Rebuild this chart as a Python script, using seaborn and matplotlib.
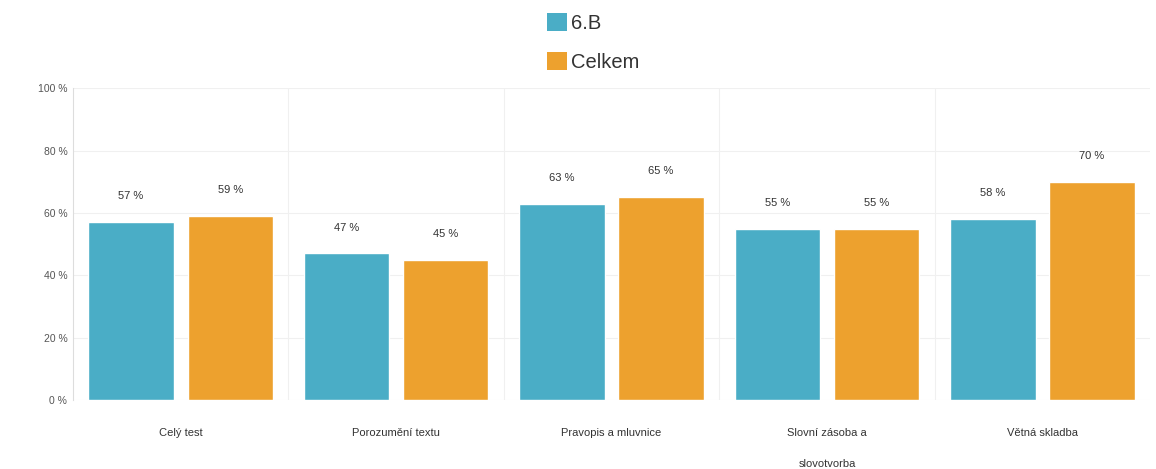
import matplotlib
matplotlib.use("Agg")
import matplotlib.pyplot as plt
import seaborn as sns
import pandas as pd
from matplotlib.patches import Patch

categories = ["Celý test", "Porozumění textu", "Pravopis a mluvnice", "Slovní zásoba a\nslovotvorba", "Větná skladba"]
series_names = ["6.B", "Celkem"]
values_6b = [57, 47, 63, 55, 58]
values_celkem = [59, 45, 65, 55, 70]
yticks = [0, 20, 40, 60, 80, 100]
colors = ["#4aadc6", "#eda12e"]

df = pd.DataFrame({
    "cat": categories * 2,
    "series": [series_names[0]] * len(categories) + [series_names[1]] * len(categories),
    "val": values_6b + values_celkem,
})

sns.set_style("white")
plt.rcParams['font.family'] = ['Liberation Sans', 'DejaVu Sans']

fig = plt.figure(figsize=(11.56, 4.69), dpi=100)
ax = fig.add_axes([0.063, 0.147, 0.932, 0.665])

sns.barplot(data=df, x="cat", y="val", hue="series", palette=colors, ax=ax,
            width=0.92, gap=0.14, legend=False, saturation=1)

ax.set_ylim(0, 100)
ax.set_xlim(-0.5, len(categories) - 0.5)
ax.set_yticks(yticks)
ax.set_yticklabels([f"{t} %" for t in yticks], color="#555555", fontsize=7.5)
ax.set_xticks(range(len(categories)))
ax.set_xticklabels([c.replace("\n", "\n\n") for c in categories], color="#333333", fontsize=8, linespacing=1.7, va="top")
ax.tick_params(axis="x", length=0, pad=20)
ax.tick_params(axis="y", length=0, pad=4)
ax.set_xlabel("")
ax.set_ylabel("")

for t in yticks:
    ax.axhline(t, color="#f0f0f0", lw=0.8, zorder=0)
for i in range(1, len(categories)):
    ax.axvline(i - 0.5, color="#f0f0f0", lw=0.8, zorder=0)

for sp in ["top", "right", "bottom"]:
    ax.spines[sp].set_visible(False)
ax.spines["left"].set_color("#dddddd")
ax.spines["left"].set_linewidth(0.8)

for cont in ax.containers:
    ax.bar_label(cont, labels=[f"{v:.0f} %" for v in cont.datavalues], padding=15, fontsize=8, color="#333333")

handles = [Patch(facecolor=c, edgecolor="none") for c in colors]
fig.legend(handles, series_names, loc="center", bbox_to_anchor=(0.513, 0.91), ncol=1, frameon=False,
           fontsize=14.5, handlelength=1.0, handleheight=1.0, handletextpad=0.2, labelspacing=0.95,
           labelcolor="#333333", borderpad=0)

fig.savefig("out.png", dpi=100, facecolor="white")
